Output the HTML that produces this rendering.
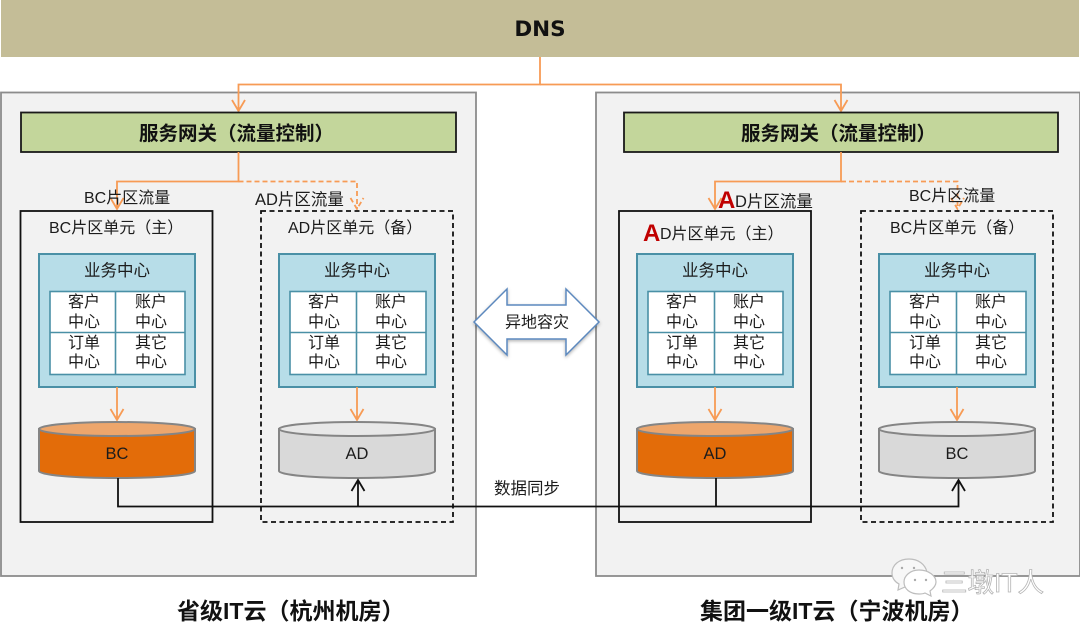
<!DOCTYPE html>
<html lang="zh-CN">
<head>
<meta charset="utf-8">
<style>
html,body{margin:0;padding:0;background:#fff;width:1080px;height:631px;overflow:hidden}
svg{display:block}
text{font-family:"Liberation Sans","Noto Sans CJK SC",sans-serif;fill:#1c1c1c;font-size:16px}
.b{font-weight:700;fill:#111}
.m{text-anchor:middle}
.o{fill:none;stroke:#F79B55;stroke-width:1.8}
.k{fill:none;stroke:#111;stroke-width:1.8}
.grid{fill:#fff;stroke:#4A90A6;stroke-width:1.6}
.blue{fill:#B7DDE8;stroke:#4A90A6;stroke-width:2}
.panel{fill:#F2F2F2;stroke:#8C8C8C;stroke-width:1.8}
.gw{fill:#C3D69B;stroke:#1a1a1a;stroke-width:1.8}
.u{fill:none;stroke:#111;stroke-width:1.8}
.ud{fill:none;stroke:#111;stroke-width:1.8;stroke-dasharray:5 3.5}
.cs{stroke:#858585;stroke-width:2}
</style>
</head>
<body>
<svg width="1080" height="631" viewBox="0 0 1080 631" xmlns="http://www.w3.org/2000/svg">
<defs>
<filter id="s" x="-10%" y="-10%" width="120%" height="125%"><feDropShadow dx="0" dy="1.5" stdDeviation="1.5" flood-color="#000" flood-opacity="0.3"/></filter>
</defs>
<rect x="1" y="0" width="1078" height="57" fill="#C4BD97"/>
<text x="540" y="36" class="b m" style="font-family:'DejaVu Sans',sans-serif;font-size:21.500px">DNS</text>

<rect class="panel" x="1" y="92.500" width="475" height="483.500"/>
<rect class="panel" x="596" y="92.500" width="484" height="483.500"/>

<path class="o" d="M540 57V84.500H238.500V111M232 100L238.500 111L245 100"/>
<path class="o" d="M540 84.500H841V111M834.500 100L841 111L847.500 100"/>

<rect class="gw" x="21" y="112.500" width="435" height="39.500"/>
<rect class="gw" x="624" y="112.500" width="434" height="39.500"/>
<text x="139" y="140" class="b" style="font-size:19.500px">服务网关（流量控制）</text>
<text x="741" y="140" class="b" style="font-size:19.500px">服务网关（流量控制）</text>

<path class="o" d="M238.500 152V181.500H117V209M110.500 198L117 209L123.500 198"/>
<path class="o" stroke-dasharray="5 3" d="M238.500 181.500H357V209M350.500 198L357 209L363.500 198"/>
<path class="o" d="M841 152V181.500H715V209M708.500 198L715 209L721.500 198"/>
<path class="o" stroke-dasharray="5 3" d="M841 181.500H957.500V209M951 198L957.500 209L964 198"/>

<text x="84" y="203">BC片区流量</text>
<text x="255" y="205" style="font-size:16.500px">AD片区流量</text>
<text x="718" y="208" style="font-size:24px;font-weight:700;fill:#C00000">A</text>
<text x="735" y="207" style="font-size:16.500px">D片区流量</text>
<text x="909" y="201">BC片区流量</text>

<rect class="u" x="20.500" y="211" width="192" height="311"/>
<rect class="ud" x="261" y="211" width="192" height="311"/>
<rect class="u" x="619" y="211" width="192" height="311"/>
<rect class="ud" x="861" y="211" width="192" height="311"/>

<text x="49" y="233">BC片区单元（主）</text>
<text x="288" y="233">AD片区单元（备）</text>
<text x="643" y="241" style="font-size:24px;font-weight:700;fill:#C00000">A</text>
<text x="660" y="239">D片区单元（主）</text>
<text x="890" y="233">BC片区单元（备）</text>

<!-- Block 1 -->
<rect class="blue" x="39" y="254" width="156" height="133"/>
<text x="117" y="276" class="m" style="font-size:16.500px">业务中心</text>
<rect class="grid" x="50" y="291.500" width="135" height="83"/>
<path class="grid" d="M115.500 291.500V374.500M50 332.500H185"/>
<text x="84" y="307" class="m">客户</text><text x="84" y="327" class="m">中心</text><text x="84" y="348" class="m">订单</text><text x="84" y="367" class="m">中心</text>
<text x="151" y="307" class="m">账户</text><text x="151" y="327" class="m">中心</text><text x="151" y="348" class="m">其它</text><text x="151" y="367" class="m">中心</text>
<path class="o" d="M117 387V420M110.500 409L117 420L123.500 409"/>
<path class="cs" fill="#E36C09" d="M39 429V471C39 475 74 478 117 478S195 475 195 471V429Z"/>
<ellipse class="cs" cx="117" cy="429" rx="78" ry="7" fill="#EDA66C"/>
<text x="117" y="459" class="m" style="font-size:16.500px">BC</text>

<!-- Block 2 -->
<rect class="blue" x="279" y="254" width="156" height="133"/>
<text x="357" y="276" class="m" style="font-size:16.500px">业务中心</text>
<rect class="grid" x="290" y="291.500" width="136" height="83"/>
<path class="grid" d="M356.500 291.500V374.500M290 332.500H426"/>
<text x="324" y="307" class="m">客户</text><text x="324" y="327" class="m">中心</text><text x="324" y="348" class="m">订单</text><text x="324" y="367" class="m">中心</text>
<text x="391" y="307" class="m">账户</text><text x="391" y="327" class="m">中心</text><text x="391" y="348" class="m">其它</text><text x="391" y="367" class="m">中心</text>
<path class="o" d="M357 387V420M350.500 409L357 420L363.500 409"/>
<path class="cs" fill="#D9D9D9" d="M279 429V471C279 475 314 478 357 478S435 475 435 471V429Z"/>
<ellipse class="cs" cx="357" cy="429" rx="78" ry="7" fill="#E8E8E8"/>
<text x="357" y="459" class="m" style="font-size:16.500px">AD</text>

<!-- Block 3 -->
<rect class="blue" x="637" y="254" width="156" height="133"/>
<text x="715" y="276" class="m" style="font-size:16.500px">业务中心</text>
<rect class="grid" x="648" y="291.500" width="135" height="83"/>
<path class="grid" d="M714.500 291.500V374.500M648 332.500H783"/>
<text x="682" y="307" class="m">客户</text><text x="682" y="327" class="m">中心</text><text x="682" y="348" class="m">订单</text><text x="682" y="367" class="m">中心</text>
<text x="749" y="307" class="m">账户</text><text x="749" y="327" class="m">中心</text><text x="749" y="348" class="m">其它</text><text x="749" y="367" class="m">中心</text>
<path class="o" d="M715 387V420M708.500 409L715 420L721.500 409"/>
<path class="cs" fill="#E36C09" d="M637 429V471C637 475 672 478 715 478S793 475 793 471V429Z"/>
<ellipse class="cs" cx="715" cy="429" rx="78" ry="7" fill="#EDA66C"/>
<text x="715" y="459" class="m" style="font-size:16.500px">AD</text>

<!-- Block 4 -->
<rect class="blue" x="879" y="254" width="156" height="133"/>
<text x="957" y="276" class="m" style="font-size:16.500px">业务中心</text>
<rect class="grid" x="890" y="291.500" width="136" height="83"/>
<path class="grid" d="M956.500 291.500V374.500M890 332.500H1026"/>
<text x="925" y="307" class="m">客户</text><text x="925" y="327" class="m">中心</text><text x="925" y="348" class="m">订单</text><text x="925" y="367" class="m">中心</text>
<text x="991" y="307" class="m">账户</text><text x="991" y="327" class="m">中心</text><text x="991" y="348" class="m">其它</text><text x="991" y="367" class="m">中心</text>
<path class="o" d="M957 387V420M950.500 409L957 420L963.500 409"/>
<path class="cs" fill="#D9D9D9" d="M879 429V471C879 475 914 478 957 478S1035 475 1035 471V429Z"/>
<ellipse class="cs" cx="957" cy="429" rx="78" ry="7" fill="#E8E8E8"/>
<text x="957" y="459" class="m" style="font-size:16.500px">BC</text>

<!-- Sync -->
<path class="k" d="M118 478V506.500H958.500V480M952 491L958.500 480L965 491"/>
<path class="k" d="M358 506.500V480M351.500 491L358 480L364.500 491"/>
<path class="k" d="M716 478V506.500"/>
<text x="494" y="494" style="font-size:16.500px">数据同步</text>

<!-- Double arrow -->
<path filter="url(#s)" fill="#fff" stroke="#5B88BE" stroke-width="1.500" stroke-linejoin="miter" d="M474 322L507 289V305H566V289L599 322L566 355V339H507V355Z"/>
<text x="505" y="327.500" style="font-size:16px">异地容灾</text>

<text x="177" y="619" class="b" style="font-size:23px">省级IT云（杭州机房）</text>
<text x="700" y="619" class="b" style="font-size:23px">集团一级IT云（宁波机房）</text>

<!-- Watermark -->
<g fill="#fff" stroke="#bdbdbd" stroke-width="1.200">
<path d="M909 559C899 559 892 565 892 573C892 578 895 582 899 584L898 590L905 587C908 588 911 588 914 587C920 582 925 578 927 572C925 564 918 559 909 559Z" fill="#f7f7f7"/>
<path d="M919 570C910 570 904 576 904 582C904 589 910 594 919 594C921 594 923 594 925 593L931 596L930 591C934 588 936 585 936 582C936 576 929 570 919 570Z"/>
</g>
<g fill="#aaa"><circle cx="902" cy="568" r="1.200"/><circle cx="914" cy="568" r="1.200"/><circle cx="915" cy="580" r="1.200"/><circle cx="926" cy="580" r="1.200"/></g>
<text x="941" y="592" style="font-size:26.500px;fill:#fff;stroke:#b5b5b5;stroke-width:.8">三墩IT人</text>
</svg>
</body>
</html>
